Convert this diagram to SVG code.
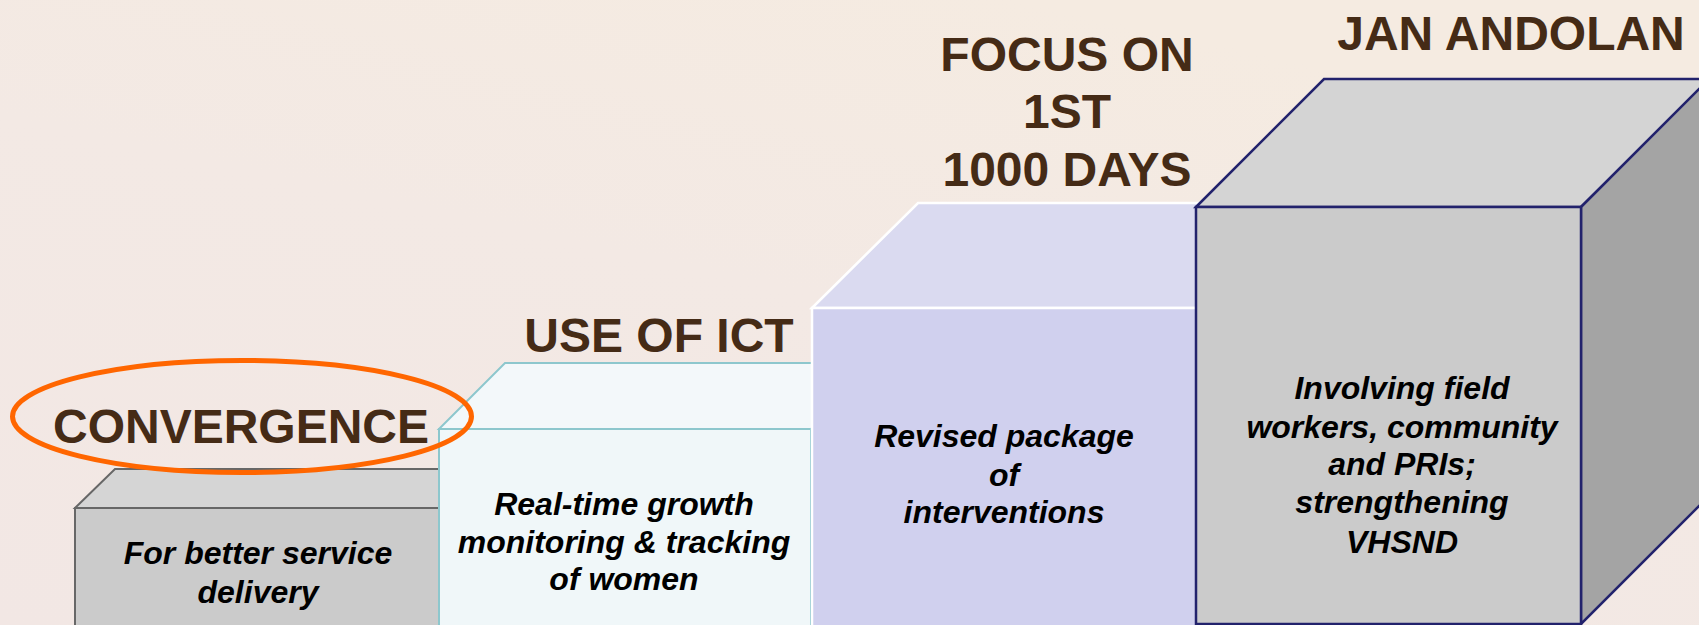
<svg xmlns="http://www.w3.org/2000/svg" width="1699" height="625" viewBox="0 0 1699 625">
  <defs>
    <linearGradient id="bg" x1="0" y1="1" x2="0.6" y2="0">
      <stop offset="0" stop-color="#F2E7E4"/>
      <stop offset="0.6" stop-color="#F3E9E4"/>
      <stop offset="1" stop-color="#F5EBE1"/>
    </linearGradient>
  </defs>
  <style>
    .head { font-family: "Liberation Sans", Arial, sans-serif; font-weight: bold; font-size: 48px; fill: #452B16; text-anchor: middle; }
    .body { font-family: "Liberation Sans", Arial, sans-serif; font-weight: bold; font-style: italic; font-size: 32px; fill: #000000; text-anchor: middle; }
    .b1 { stroke: #676767; stroke-width: 2; stroke-linejoin: miter; }
    .b2 { stroke: #8DC7CD; stroke-width: 2; }
    .b3 { stroke: #FFFFFF; stroke-width: 2.5; }
    .b4 { stroke: #22226C; stroke-width: 2.5; }
  </style>
  <rect x="0" y="0" width="1699" height="625" fill="url(#bg)"/>

  <g id="node-convergence">
    <polygon class="b1" points="75,508 115,469 480,469 440,508" fill="#D5D5D5"/>
    <rect class="b1" x="75" y="508" width="365" height="130" fill="#CBCBCB"/>
    <text class="body" x="258" y="564">For better service</text>
    <text class="body" x="258" y="603">delivery</text>
  </g>

  <g id="node-ict">
    <polygon class="b2" points="439,429 505,363 877,363 811,429" fill="#F3F8FA"/>
    <rect class="b2" x="439" y="429" width="372" height="210" fill="#F0F7F9"/>
    <text class="body" x="624" y="515">Real-time growth</text>
    <text class="body" x="624" y="553">monitoring &amp; tracking</text>
    <text class="body" x="624" y="590">of women</text>
  </g>

  <g id="node-1000days">
    <polygon class="b3" points="812,308 918,203 1303,203 1197,308" fill="#DADAF0"/>
    <rect class="b3" x="812" y="308" width="385" height="330" fill="#D0D0EE"/>
    <text class="body" x="1004" y="447">Revised package</text>
    <text class="body" x="1004" y="486">of</text>
    <text class="body" x="1004" y="523">interventions</text>
  </g>

  <g id="node-janandolan">
    <polygon class="b4" points="1196,207 1324,79 1712,79 1581,207" fill="#D4D4D4"/>
    <polygon class="b4" points="1581,207 1712,76 1712,493 1581,624" fill="#A4A4A4"/>
    <rect class="b4" x="1196" y="207" width="385" height="417" fill="#CBCBCB"/>
    <text class="body" x="1402" y="399">Involving field</text>
    <text class="body" x="1402" y="438">workers, community</text>
    <text class="body" x="1402" y="475">and PRIs;</text>
    <text class="body" x="1402" y="513">strengthening</text>
    <text class="body" x="1402" y="553">VHSND</text>
  </g>

  <g id="labels">
    <text class="head" x="241" y="443">CONVERGENCE</text>
    <text class="head" x="659" y="352">USE OF ICT</text>
    <text class="head" x="1067" y="71">FOCUS ON</text>
    <text class="head" x="1067" y="128">1ST</text>
    <text class="head" x="1067" y="186">1000 DAYS</text>
    <text class="head" x="1511" y="50">JAN ANDOLAN</text>
  </g>

  <g id="connectors">
    <ellipse cx="242" cy="416.5" rx="229.5" ry="56" fill="none" stroke="#FF6600" stroke-width="5"/>
  </g>
</svg>
